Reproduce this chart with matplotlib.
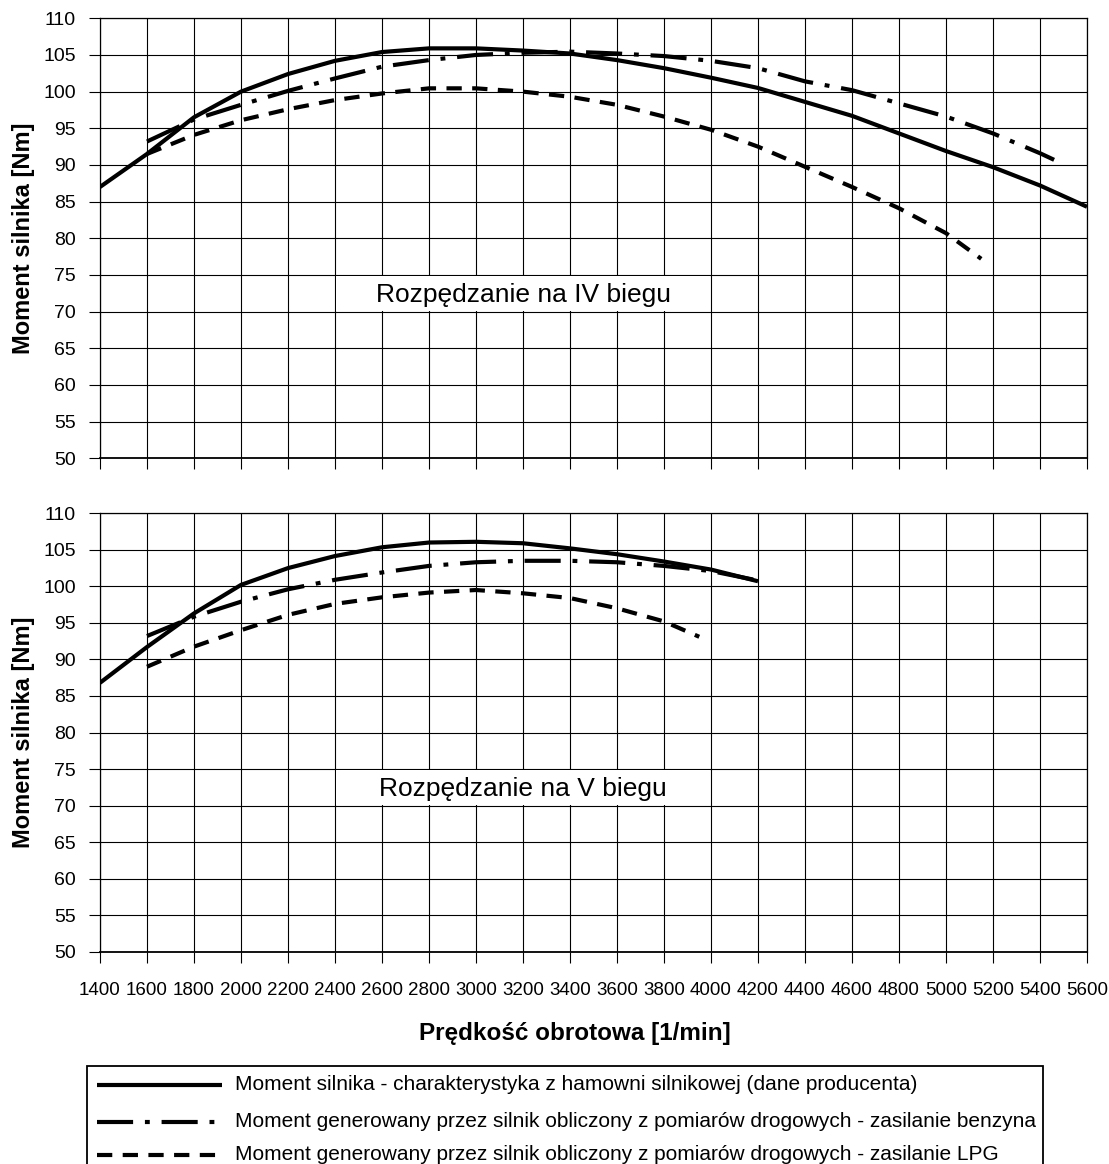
import matplotlib
matplotlib.use("Agg")
import matplotlib.pyplot as plt
from matplotlib.lines import Line2D
from matplotlib.patches import Rectangle

plt.rcParams['font.family'] = ['Liberation Sans', 'DejaVu Sans']
plt.rcParams['lines.scale_dashes'] = False

# ---------------- data ----------------
# IV gear
rpm_iv_engine = [1400, 1600, 1800, 2000, 2200, 2400, 2600, 2800, 3000, 3200, 3400,
                 3600, 3800, 4000, 4200, 4400, 4600, 4800, 5000, 5200, 5400, 5600]
torque_iv_engine = [87.0, 91.5, 96.5, 100.0, 102.4, 104.2, 105.4, 105.9, 105.9, 105.6, 105.2,
                    104.3, 103.2, 101.9, 100.5, 98.6, 96.7, 94.3, 91.9, 89.7, 87.2, 84.3]

rpm_iv_petrol = [1600, 1800, 2000, 2200, 2400, 2600, 2800, 3000, 3200, 3400, 3600,
                 3800, 4000, 4200, 4400, 4600, 4800, 5000, 5200, 5400, 5460]
torque_iv_petrol = [93.2, 96.2, 98.2, 100.1, 101.8, 103.4, 104.3, 105.0, 105.3, 105.45, 105.2,
                    104.85, 104.2, 103.2, 101.4, 100.2, 98.4, 96.6, 94.3, 91.6, 90.7]

rpm_iv_lpg = [1600, 1800, 2000, 2200, 2400, 2600, 2800, 3000, 3200, 3400, 3600,
              3800, 4000, 4200, 4400, 4600, 4800, 5000, 5150]
torque_iv_lpg = [91.5, 94.1, 96.1, 97.6, 98.85, 99.75, 100.45, 100.45, 100.0, 99.3, 98.2,
                 96.6, 94.8, 92.5, 89.75, 87.0, 84.1, 80.7, 77.2]

# V gear
rpm_v_engine = [1400, 1600, 1800, 2000, 2200, 2400, 2600, 2800, 3000, 3200, 3400,
                3600, 3800, 4000, 4200]
torque_v_engine = [86.8, 91.7, 96.3, 100.2, 102.5, 104.15, 105.35, 106.0, 106.1, 105.9, 105.2,
                   104.4, 103.4, 102.3, 100.7]

rpm_v_petrol = [1600, 1800, 2000, 2200, 2400, 2600, 2800, 3000, 3200, 3400, 3600,
                3800, 4000, 4200]
torque_v_petrol = [93.2, 95.85, 97.9, 99.6, 100.9, 101.9, 102.8, 103.3, 103.5, 103.5, 103.3,
                   102.8, 102.1, 100.8]

rpm_v_lpg = [1600, 1800, 2000, 2200, 2400, 2600, 2800, 3000, 3200, 3400, 3600, 3800, 3950]
torque_v_lpg = [89.0, 91.75, 94.0, 96.1, 97.6, 98.5, 99.15, 99.5, 99.05, 98.4, 97.0, 95.2, 93.1]

x_ticks = list(range(1400, 5601, 200))
y_ticks = list(range(50, 111, 5))

panel_titles = ["Rozpędzanie na IV biegu", "Rozpędzanie na V biegu"]
y_label = "Moment silnika [Nm]"
x_label = "Prędkość obrotowa [1/min]"
legend_labels = [
    "Moment silnika - charakterystyka z hamowni silnikowej (dane producenta)",
    "Moment generowany przez silnik obliczony z pomiarów drogowych - zasilanie benzyna",
    "Moment generowany przez silnik obliczony z pomiarów drogowych - zasilanie LPG",
]

# ---------------- styles ----------------
LW = 3.0
style_engine = dict(color='black', lw=LW, linestyle='-', solid_capstyle='butt')
style_petrol = dict(color='black', lw=LW, linestyle=(0, (26, 8.5, 3.5, 8.5)))
style_lpg = dict(color='black', lw=LW, linestyle=(0, (11, 7.5)))

W, H = 1109, 1164
fig = plt.figure(figsize=(W / 100, H / 100), dpi=100)
ax1 = fig.add_axes([100 / W, 1 - 458.3 / H, 987 / W, 440 / H])
ax2 = fig.add_axes([100 / W, 1 - 951.7 / H, 987 / W, 438.4 / H])

series = [
    (ax1, [(rpm_iv_engine, torque_iv_engine, style_engine),
           (rpm_iv_petrol, torque_iv_petrol, style_petrol),
           (rpm_iv_lpg, torque_iv_lpg, style_lpg)], panel_titles[0]),
    (ax2, [(rpm_v_engine, torque_v_engine, style_engine),
           (rpm_v_petrol, torque_v_petrol, style_petrol),
           (rpm_v_lpg, torque_v_lpg, style_lpg)], panel_titles[1]),
]

for ax, lines, title in series:
    ax.set_xlim(1400, 5600)
    ax.set_ylim(50, 110)
    ax.set_xticks(x_ticks)
    ax.set_yticks(y_ticks)
    ax.set_axisbelow(True)
    ax.grid(True, color='black', lw=0.8)
    for sp in ax.spines.values():
        sp.set_color('black')
        sp.set_linewidth(0.9)
    ax.spines['bottom'].set_linewidth(1.3)
    ax.tick_params(axis='y', direction='out', length=8, width=0.8, pad=9.5,
                   labelsize=14, colors='black')
    ax.tick_params(axis='x', direction='out', length=8, width=0.8, pad=13.5,
                   labelsize=13.5, colors='black')
    # white background behind the panel caption (grid cells 2400-4000, 70-75)
    ax.add_patch(Rectangle((2404, 70.08), 1592, 4.84, facecolor='white',
                           edgecolor='none', zorder=1))
    for xs, ys, st in lines:
        ax.plot(xs, ys, zorder=3, **st)
    ax.text(3200, 71.35, title, ha='center', va='baseline', fontsize=19, zorder=4)

ax1.tick_params(axis='x', labelbottom=False)

# axis labels
fig.text(24 / W, 1 - 238.3 / H, y_label, rotation=90, ha='center', va='center',
         fontsize=17, fontweight='bold')
fig.text(24 / W, 1 - 732.5 / H, y_label, rotation=90, ha='center', va='center',
         fontsize=17, fontweight='bold')
fig.text(575 / W, 1 - 1040 / H, x_label, ha='center', va='baseline',
         fontsize=17.5, fontweight='bold')

# legend box
box_top = 1 - 1066 / H
fig.add_artist(Rectangle((87 / W, -0.01), (1043 - 87) / W, box_top + 0.01,
                         transform=fig.transFigure, facecolor='white',
                         edgecolor='black', lw=1.3))

row_y = [1085, 1121.5, 1155]
for st, lab, yy in zip([style_engine, style_petrol, style_lpg], legend_labels, row_y):
    yf = 1 - yy / H
    fig.add_artist(Line2D([97 / W, 222 / W], [yf, yf], transform=fig.transFigure, **st))
    fig.text(235 / W, yf, lab, ha='left', va='center', fontsize=15)

fig.savefig("out.png", dpi=100)
